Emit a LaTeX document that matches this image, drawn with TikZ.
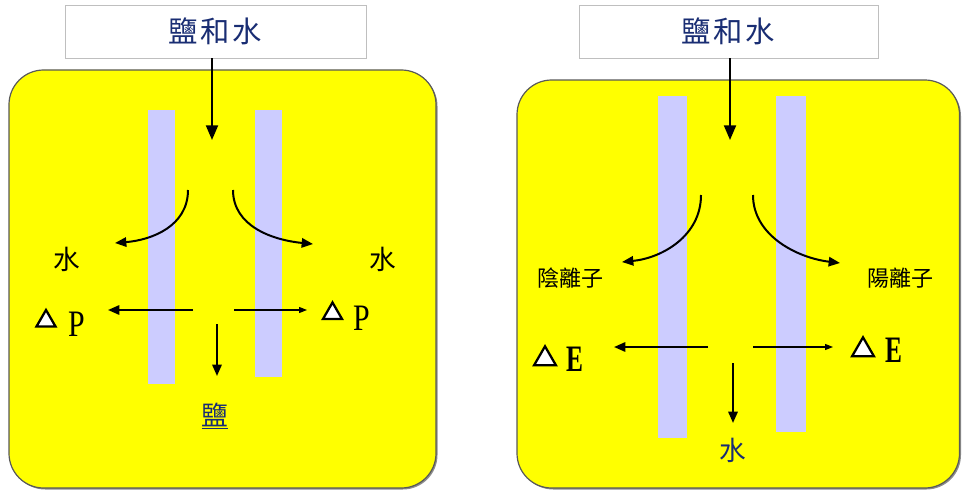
\documentclass[tikz,border=0pt]{standalone}
\usepackage{fontspec}
\setmainfont{Liberation Serif}
\newfontfamily\cjk{Noto Sans CJK TC}
\usetikzlibrary{arrows.meta,shapes.geometric}
\definecolor{navy}{RGB}{25,45,115}
\definecolor{mem}{RGB}{204,204,255}
\definecolor{yel}{RGB}{255,255,0}
\begin{document}
\begin{tikzpicture}[x=0.75pt,y=-0.75pt,
  panel/.style={draw=black!65,line width=0.9pt,fill=yel,rounded corners=26pt},
  shadowbox/.style={fill=black!45,rounded corners=26pt},
  topbox/.style={draw=black!25,line width=0.6pt,fill=white,minimum height=39.75pt,inner sep=0pt,font=\cjk\fontsize{22}{26}\selectfont,text=navy},
  side/.style={inner sep=0pt,font=\cjk\fontsize{20}{22}\selectfont},
  ion/.style={inner sep=0pt,font=\cjk\fontsize{16.5}{18}\selectfont},
  outlab/.style={inner sep=0pt,font=\cjk\fontsize{20}{22}\selectfont,text=navy},
  tri/.style={regular polygon,regular polygon sides=3,draw=black,fill=white,line width=1.7pt,minimum size=16.5pt,inner sep=0pt},
  letter/.style={inner sep=0pt,font=\fontsize{28}{30}\selectfont},
  big/.style={line width=1.5pt,-{Triangle[length=11pt,width=9pt]}},
  mid/.style={line width=1.5pt,-{Triangle[length=8.5pt,width=7pt]}},
  thin/.style={line width=0.8pt,-{Triangle[length=6pt,width=4.5pt]}}]
\useasboundingbox (0,0) rectangle (962,492);
% ---------- left panel ----------
\fill[shadowbox] (10.5,71.5) rectangle (437.5,489.5);
\draw[panel] (9,70) rectangle (436,488);
\fill[mem] (148,110) rectangle (175,384);
\fill[mem] (255,110) rectangle (282,377);
\node[topbox,minimum width=225.75pt] (topL) at (215.5,31.5) {鹽\hspace{2pt}和\hspace{2pt}水};
\coordinate (inL) at (212,140);
\draw[big] (inL |- topL.south) -- (inL);
\coordinate (cLs) at (188,190);
\coordinate (cLe) at (115,243);
\coordinate (cRs) at (233,190);
\coordinate (cRe) at (313,244);
\draw[mid] (cLs) .. controls (188,226) and (152,240) .. (cLe);
\draw[mid] (cRs) .. controls (233,226) and (272,240) .. (cRe);
\node[side] (wL) at (67,259) {水};
\node[side] (wR) at (383,259) {水};
\coordinate (hLs) at (193,310);
\coordinate (hLe) at (108,310);
\coordinate (hRs) at (234,310);
\coordinate (hRe) at (307,310);
\draw[mid] (hLs) -- (hLe);
\draw[thin] (hRs) -- (hRe);
\coordinate (dLs) at (217,324);
\coordinate (dLe) at (217,376);
\draw[mid] (dLs) -- (dLe);
\node[tri] (tPL) at (46,321) {};
\node[letter] (pL) at (76.5,324.5) {\scalebox{0.8}[1]{P}};
\node[tri] (tPR) at (332.5,313.5) {};
\node[letter] (pR) at (361.5,318.5) {\scalebox{0.8}[1]{P}};
\node[outlab] (salt) at (215,416) {\underline{鹽}};
% ---------- right panel ----------
\fill[shadowbox] (518.5,81.5) rectangle (961,489.5);
\draw[panel] (517,80) rectangle (959.5,488);
\fill[mem] (658,96) rectangle (687,438);
\fill[mem] (776,96) rectangle (806,432);
\node[topbox,minimum width=224.25pt] (topR) at (728.5,31.5) {鹽\hspace{2pt}和\hspace{2pt}水};
\coordinate (inR) at (730,140);
\draw[big] (inR |- topR.south) -- (inR);
\coordinate (eLs) at (701,195);
\coordinate (eLe) at (622,262);
\coordinate (eRs) at (753,195);
\coordinate (eRe) at (840,263);
\draw[mid] (eLs) .. controls (701,236) and (662,258) .. (eLe);
\draw[mid] (eRs) .. controls (753,236) and (798,258) .. (eRe);
\node[ion] (anion) at (570,278) {陰離子};
\node[ion] (cation) at (900,278) {陽離子};
\coordinate (gLs) at (708,347);
\coordinate (gLe) at (614,347);
\coordinate (gRs) at (753,347);
\coordinate (gRe) at (833,347);
\draw[mid] (gLs) -- (gLe);
\draw[thin] (gRs) -- (gRe);
\coordinate (wDs) at (733,363);
\coordinate (wDe) at (733,423);
\draw[mid] (wDs) -- (wDe);
\node[tri,minimum size=19pt] (tEL) at (545,359) {};
\node[letter] (eL) at (575,359.5) {\bfseries\scalebox{0.68}[1]{E}};
\node[tri,minimum size=19pt] (tER) at (863,350) {};
\node[letter] (eR) at (893.5,350.5) {\bfseries\scalebox{0.68}[1]{E}};
\node[outlab] (water) at (733,450) {水};
\end{tikzpicture}
\end{document}
